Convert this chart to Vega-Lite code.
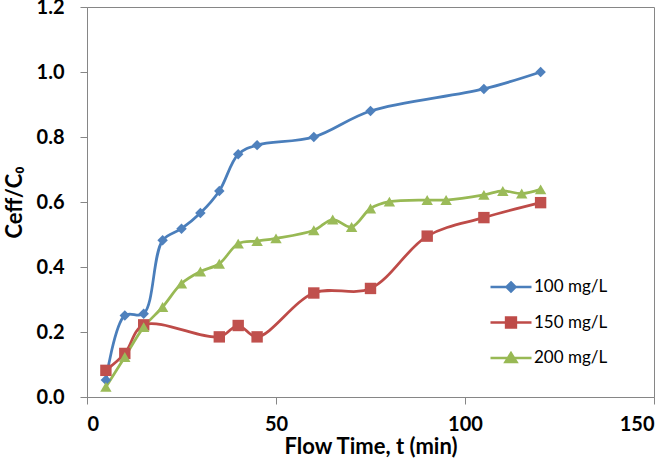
{
  "$schema": "https://vega.github.io/schema/vega-lite/v6.json",
  "width": 567,
  "height": 390,
  "autosize": "none",
  "padding": {"left": 87, "top": 7, "right": 15, "bottom": 63},
  "background": "white",
  "config": {
    "view": {"stroke": "#868686", "strokeWidth": 1},
    "font": "Lato",
    "axis": {
      "grid": false,
      "domainColor": "#868686",
      "tickColor": "#868686",
      "tickSize": 7,
      "labelFont": "Lato",
      "labelFontWeight": "bold",
      "labelFontSize": 20,
      "labelColor": "black",
      "titleFont": "Lato",
      "titleFontWeight": "bold",
      "titleFontSize": 22,
      "titleColor": "black"
    }
  },
  "data": {
    "values": [
      {"series": "100 mg/L", "t": 5, "c": 0.052},
      {"series": "100 mg/L", "t": 10, "c": 0.251},
      {"series": "100 mg/L", "t": 15, "c": 0.256},
      {"series": "100 mg/L", "t": 20, "c": 0.482},
      {"series": "100 mg/L", "t": 25, "c": 0.518},
      {"series": "100 mg/L", "t": 30, "c": 0.566},
      {"series": "100 mg/L", "t": 35, "c": 0.634},
      {"series": "100 mg/L", "t": 40, "c": 0.747},
      {"series": "100 mg/L", "t": 45, "c": 0.775},
      {"series": "100 mg/L", "t": 60, "c": 0.8},
      {"series": "100 mg/L", "t": 75, "c": 0.88},
      {"series": "100 mg/L", "t": 105, "c": 0.948},
      {"series": "100 mg/L", "t": 120, "c": 1.0},
      {"series": "150 mg/L", "t": 5, "c": 0.082},
      {"series": "150 mg/L", "t": 10, "c": 0.134},
      {"series": "150 mg/L", "t": 15, "c": 0.222},
      {"series": "150 mg/L", "t": 35, "c": 0.185},
      {"series": "150 mg/L", "t": 40, "c": 0.22},
      {"series": "150 mg/L", "t": 45, "c": 0.185},
      {"series": "150 mg/L", "t": 60, "c": 0.32},
      {"series": "150 mg/L", "t": 75, "c": 0.334},
      {"series": "150 mg/L", "t": 90, "c": 0.495},
      {"series": "150 mg/L", "t": 105, "c": 0.552},
      {"series": "150 mg/L", "t": 120, "c": 0.598},
      {"series": "200 mg/L", "t": 5, "c": 0.031},
      {"series": "200 mg/L", "t": 10, "c": 0.123},
      {"series": "200 mg/L", "t": 15, "c": 0.215},
      {"series": "200 mg/L", "t": 20, "c": 0.277},
      {"series": "200 mg/L", "t": 25, "c": 0.349},
      {"series": "200 mg/L", "t": 30, "c": 0.386},
      {"series": "200 mg/L", "t": 35, "c": 0.41},
      {"series": "200 mg/L", "t": 40, "c": 0.472},
      {"series": "200 mg/L", "t": 45, "c": 0.48},
      {"series": "200 mg/L", "t": 50, "c": 0.488},
      {"series": "200 mg/L", "t": 60, "c": 0.513},
      {"series": "200 mg/L", "t": 65, "c": 0.546},
      {"series": "200 mg/L", "t": 70, "c": 0.523},
      {"series": "200 mg/L", "t": 75, "c": 0.58},
      {"series": "200 mg/L", "t": 80, "c": 0.601},
      {"series": "200 mg/L", "t": 90, "c": 0.606},
      {"series": "200 mg/L", "t": 95, "c": 0.606},
      {"series": "200 mg/L", "t": 105, "c": 0.622},
      {"series": "200 mg/L", "t": 110, "c": 0.634},
      {"series": "200 mg/L", "t": 115, "c": 0.626},
      {"series": "200 mg/L", "t": 120, "c": 0.639}
    ]
  },
  "encoding": {
    "x": {
      "field": "t",
      "type": "quantitative",
      "scale": {"domain": [0, 150], "nice": false},
      "axis": {"values": [0, 50, 100, 150], "title": "Flow Time, t (min)", "labelPadding": 10, "titlePadding": 2}
    },
    "y": {
      "field": "c",
      "type": "quantitative",
      "scale": {"domain": [0, 1.2], "nice": false},
      "axis": {"values": [0, 0.2, 0.4, 0.6, 0.8, 1.0, 1.2], "format": ".1f", "title": "Ceff/C₀", "labelPadding": 16, "titlePadding": 10}
    }
  },
  "layer": [
    {
      "mark": {"type": "line", "interpolate": "catmull-rom", "strokeWidth": 2.75},
      "encoding": {
        "color": {
          "field": "series",
          "type": "nominal",
          "scale": {"domain": ["100 mg/L", "150 mg/L", "200 mg/L"], "range": ["#4A7EBB", "#BE4B48", "#98B954"]},
          "legend": {
            "title": null,
            "orient": "none",
            "legendX": 402,
            "legendY": 258,
            "padding": 0,
            "symbolSize": 1681,
            "symbolStrokeWidth": 2.5,
            "labelFont": "Lato",
            "labelFontSize": 17,
            "labelColor": "black",
            "labelOffset": 1,
            "rowPadding": 3.5,
            "encode": {
              "symbols": {
                "update": {
                  "shape": {"signal": "datum.value == '100 mg/L' ? 'M-1,0H1M0,-0.22L0.22,0L0,0.22L-0.22,0Z' : datum.value == '150 mg/L' ? 'M-1,0H1M-0.24,-0.24H0.24V0.24H-0.24Z' : 'M-1,0H1M0,-0.24L0.27,0.2H-0.27Z'"},
                  "fill": {"signal": "scale('color', datum.value)"},
                  "stroke": {"signal": "scale('color', datum.value)"},
                  "fillOpacity": {"value": 1},
                  "strokeWidth": {"value": 2.5}
                }
              }
            }
          }
        }
      }
    },
    {
      "transform": [{"filter": "datum.series == '100 mg/L'"}],
      "mark": {"type": "point", "filled": true, "opacity": 1, "shape": "diamond", "size": 110, "color": "#4F81BD"}
    },
    {
      "transform": [{"filter": "datum.series == '150 mg/L'"}],
      "mark": {"type": "point", "filled": true, "opacity": 1, "shape": "square", "size": 130, "color": "#C0504D"}
    },
    {
      "transform": [{"filter": "datum.series == '200 mg/L'"}],
      "mark": {"type": "point", "filled": true, "opacity": 1, "shape": "triangle-up", "size": 130, "color": "#9BBB59"}
    }
  ]
}
